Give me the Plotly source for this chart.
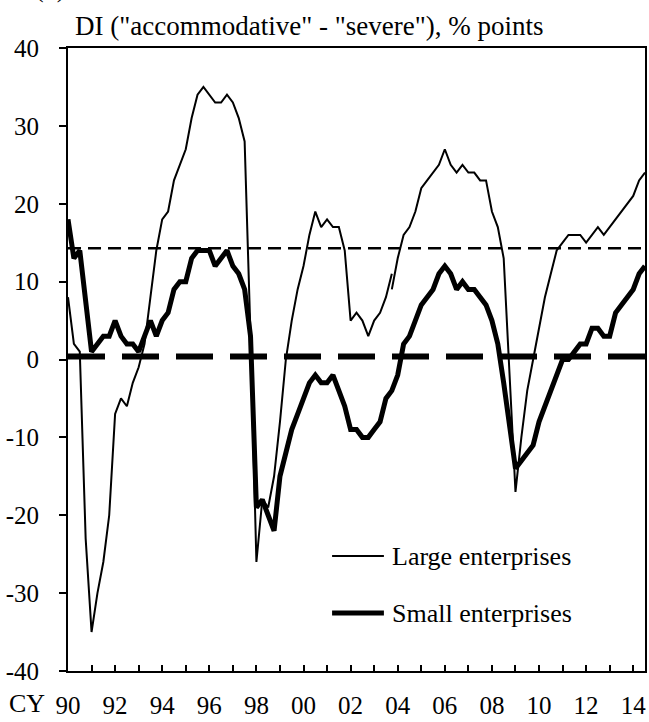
import plotly.graph_objects as go

# Quarterly data, 1990Q1 .. 2014Q3 (99 quarters)
year_labels = ["90", "92", "94", "96", "98", "00", "02", "04", "06", "08", "10", "12", "14"]

# Large enterprises, old basis (1990Q1 .. 2003Q4)
large_old = [8, 2, 1, -23, -35, -30, -26, -20, -7, -5,
             -6, -3, -1, 2, 8, 14, 18, 19, 23, 25,
             27, 31, 34, 35, 34, 33, 33, 34, 33, 31,
             28, 3, -26, -18, -19, -15, -8, 0, 5, 9,
             12, 16, 19, 17, 18, 17, 17, 14, 5, 6,
             5, 3, 5, 6, 8, 11]
# Large enterprises, new basis (2003Q4 .. 2014Q3)
large_new = [9, 13, 16, 17, 19, 22, 23, 24, 25, 27,
             25, 24, 25, 24, 24, 23, 23, 19, 17, 13,
             -2, -17, -10, -4, 0, 4, 8, 11, 14, 15,
             16, 16, 16, 15, 16, 17, 16, 17, 18, 19,
             20, 21, 23, 24]
# Small enterprises (1990Q1 .. 2014Q3)
small = [18, 13, 14, 7, 1, 2, 3, 3, 5, 3,
         2, 2, 1, 3, 5, 3, 5, 6, 9, 10,
         10, 13, 14, 14, 14, 12, 13, 14, 12, 11,
         9, 3, -19, -18, -20, -22, -15, -12, -9, -7,
         -5, -3, -2, -3, -3, -2, -4, -6, -9, -9,
         -10, -10, -9, -8, -5, -4, -2, 2, 3, 5,
         7, 8, 9, 11, 12, 11, 9, 10, 9, 9,
         8, 7, 5, 2, -3, -9, -14, -13, -12, -11,
         -8, -6, -4, -2, 0, 0, 1, 2, 2, 4,
         4, 3, 3, 6, 7, 8, 9, 11, 12]
large_avg = 14.3
small_avg = 0.4

n = len(small)
x_small = list(range(n))
x_large_old = list(range(len(large_old)))
x_large_new = list(range(n - len(large_new), n))

FONT = "Liberation Serif"
fig = go.Figure()

fig.add_trace(go.Scatter(x=[0, n - 1], y=[large_avg, large_avg], mode="lines",
                         line=dict(color="black", width=2.5, dash="13px,7px"),
                         showlegend=False, hoverinfo="skip"))
fig.add_trace(go.Scatter(x=[0, n - 1], y=[small_avg, small_avg], mode="lines",
                         line=dict(color="black", width=6, dash="37px,17px"),
                         showlegend=False, hoverinfo="skip"))
fig.add_trace(go.Scatter(x=x_large_old, y=large_old, mode="lines",
                         line=dict(color="black", width=2), showlegend=False))
fig.add_trace(go.Scatter(x=x_large_new, y=large_new, mode="lines",
                         line=dict(color="black", width=2), showlegend=False))
fig.add_trace(go.Scatter(x=x_small, y=small, mode="lines",
                         line=dict(color="black", width=5), showlegend=False))

# x ticks every year, labels every second year
tickvals = list(range(0, 97, 4))
ticktext = []
for k in range(len(tickvals)):
    ticktext.append(year_labels[k // 2] if k % 2 == 0 else "")

fig.update_xaxes(range=[0, n - 1], tickvals=tickvals, ticktext=ticktext,
                 ticks="inside", ticklen=6, tickwidth=2, tickcolor="black",
                 showline=True, linecolor="black", linewidth=2, mirror=True,
                 showgrid=False, zeroline=False,
                 tickfont=dict(family=FONT, size=25, color="black"),
                 ticklabelstandoff=11)
yvals = list(range(-40, 41, 10))
fig.update_yaxes(range=[-40, 40], tickvals=yvals, ticktext=[str(v) for v in yvals],
                 ticks="outside", ticklen=7, tickwidth=2, tickcolor="black",
                 showline=True, linecolor="black", linewidth=2, mirror=True,
                 showgrid=False, zeroline=False,
                 tickfont=dict(family=FONT, size=25, color="black"),
                 ticklabelstandoff=15)

W, H = 649, 722
L, R, T, B = 68, 2, 48, 51
pw, ph = W - L - R, H - T - B

def px(xp):
    return (xp - L) / pw

def py(yp):
    return (H - B - yp) / ph

ann = []
ann.append(dict(text='DI ("accommodative" - "severe"), % points', x=px(73), y=py(26),
                xref="paper", yref="paper", xanchor="left", yanchor="middle",
                showarrow=False, font=dict(family=FONT, size=27, color="black")))
ann.append(dict(text="(2)", x=px(50), y=py(-12), xref="paper", yref="paper",
                xanchor="center", yanchor="middle", showarrow=False,
                font=dict(family=FONT, size=26, color="black")))
ann.append(dict(text="CY", x=px(47), y=py(703), xref="paper", yref="paper",
                xanchor="right", yanchor="middle", showarrow=False,
                font=dict(family=FONT, size=26, color="black")))
ann.append(dict(text="Large enterprises", x=px(391), y=py(556), xref="paper", yref="paper",
                xanchor="left", yanchor="middle", showarrow=False,
                font=dict(family=FONT, size=26, color="black")))
ann.append(dict(text="Small enterprises", x=px(391), y=py(613), xref="paper", yref="paper",
                xanchor="left", yanchor="middle", showarrow=False,
                font=dict(family=FONT, size=26, color="black")))

shapes = [
    dict(type="line", xref="paper", yref="paper", x0=px(333), x1=px(385), y0=py(556), y1=py(556),
         line=dict(color="black", width=2)),
    dict(type="line", xref="paper", yref="paper", x0=px(333), x1=px(385), y0=py(613), y1=py(613),
         line=dict(color="black", width=5)),
]

fig.update_layout(width=W, height=H, margin=dict(l=L, r=R, t=T, b=B),
                  paper_bgcolor="white", plot_bgcolor="white",
                  annotations=ann, shapes=shapes, showlegend=False,
                  font=dict(family=FONT, color="black"))

fig.write_html("out.html", config={"displayModeBar": False},
               post_script="document.body.style.margin='0px';")
